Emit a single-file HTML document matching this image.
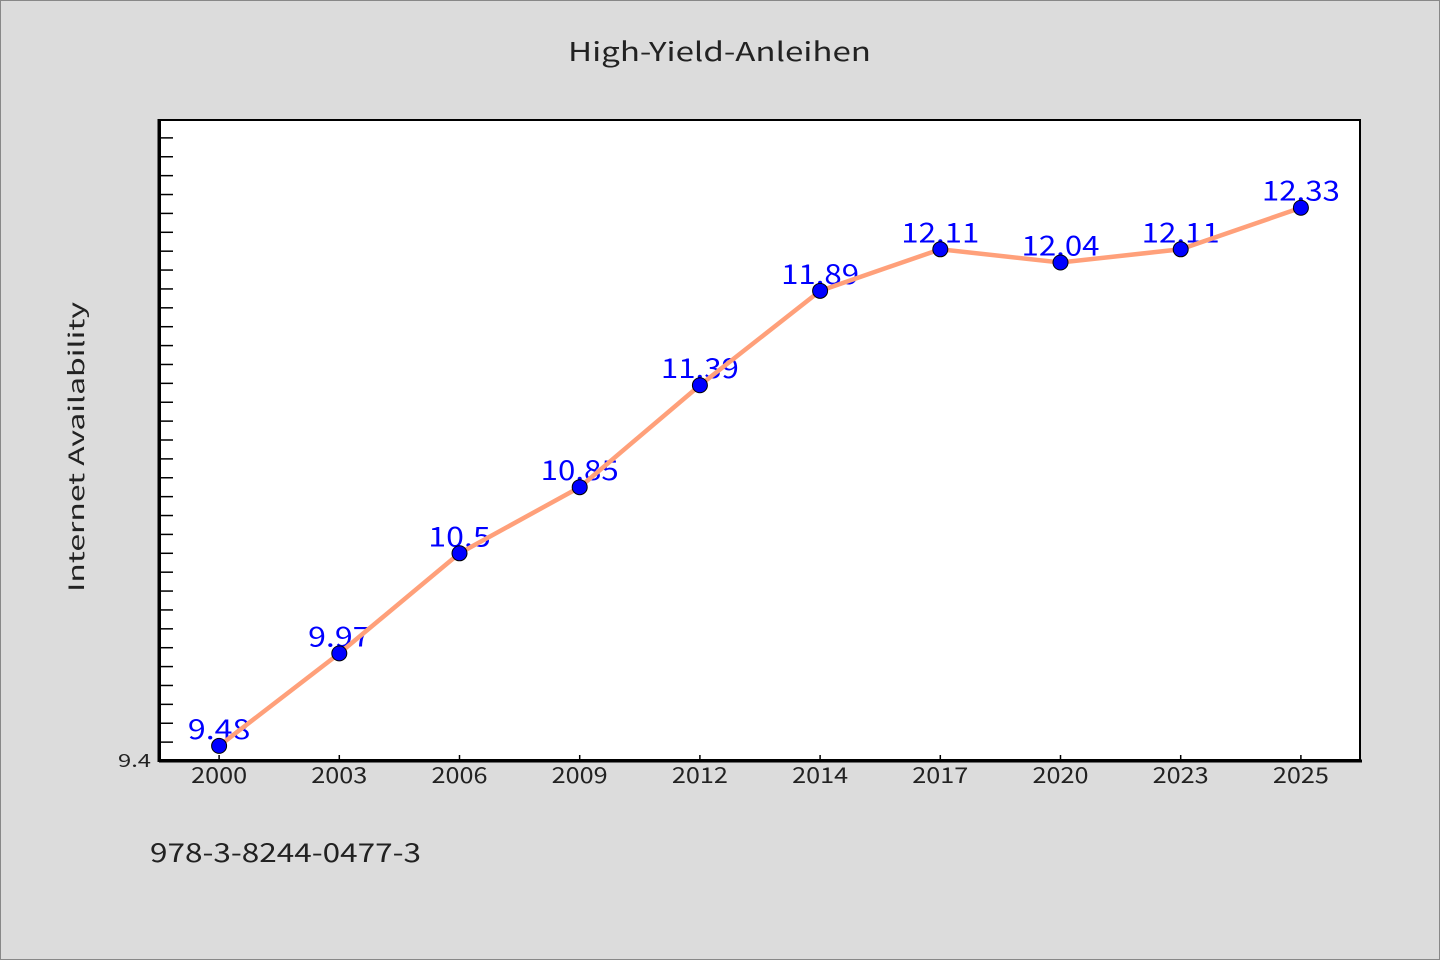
<!DOCTYPE html>
<html><head><meta charset="utf-8"><style>
html,body{margin:0;padding:0;background:#dcdcdc;}
svg{display:block;font-family:"WenQuanYi Zen Hei Mono","WenQuanYi Zen Hei","Noto Sans CJK SC","Liberation Sans",sans-serif;}
</style></head><body>
<svg id="chart" width="1440" height="960">
<rect x="0.5" y="0.5" width="1439" height="959" fill="#dcdcdc" stroke="#888"/>
<text x="568" y="61" font-size="26" fill="#222" textLength="303" lengthAdjust="spacingAndGlyphs">High-Yield-Anleihen</text>
<rect x="159" y="119" width="1202" height="642" fill="#fff"/>
<g id="yticks"></g>
<g id="xticks"></g>
<g id="labels"></g>
<path id="line" fill="none" stroke="#ffa07a" stroke-width="4.5"/>
<g id="points"></g>
<rect x="160" y="120" width="1200" height="640" fill="none" stroke="#000" stroke-width="2"/>
<line x1="159" y1="761" x2="1362" y2="761" stroke="#000" stroke-width="3"/>
<line x1="159" y1="119" x2="159" y2="762" stroke="#000" stroke-width="3"/>
<text x="118" y="767" font-size="18" fill="#222" textLength="33" lengthAdjust="spacingAndGlyphs">9.4</text>
<text transform="translate(84,592) rotate(-90)" font-size="21" fill="#222" textLength="290" lengthAdjust="spacingAndGlyphs">Internet Availability</text>
<text x="150" y="862" font-size="26" fill="#222" textLength="271" lengthAdjust="spacingAndGlyphs">978-3-8244-0477-3</text>
</svg>
<script>
const categories=["2000","2003","2006","2009","2012","2014","2017","2020","2023","2025"];
const values=[9.48,9.97,10.5,10.85,11.39,11.89,12.11,12.04,12.11,12.33];
const valueLabels=["9.48","9.97","10.5","10.85","11.39","11.89","12.11","12.04","12.11","12.33"];
const yMin=9.4,yMax=12.8;
const L=159,R=1361,T=119,B=761;
const NS="http://www.w3.org/2000/svg";
const band=(R-L)/categories.length;
const x=i=>L+band*(i+0.5);
const y=v=>B-(v-yMin)/(yMax-yMin)*(B-T);
function mk(t,a,p){const e=document.createElementNS(NS,t);for(const k in a)e.setAttribute(k,a[k]);p.appendChild(e);return e;}
const yt=document.getElementById('yticks');
for(let k=1;k<34;k++){const v=yMin+k*0.1;const yy=y(v);
const e=mk('line',{x1:L,x2:L+14,y1:yy,y2:yy,stroke:'#000','stroke-width':1.5},yt);

}
const xt=document.getElementById('xticks');
categories.forEach((c,i)=>{
const t=mk('line',{x1:x(i),x2:x(i),y1:B-6,y2:B,stroke:'#000','stroke-width':1.5},xt);


const l=mk('text',{x:x(i)-28,y:B+22,'font-size':22,fill:'#222',textLength:56,lengthAdjust:'spacingAndGlyphs'},xt);
l.textContent=c;

});
const lb=document.getElementById('labels');
values.forEach((v,i)=>{const s=valueLabels[i];const w=s.length*15.6;
const t=mk('text',{x:x(i)-w/2,y:y(v)-7,'font-size':27,fill:'#0000ff',textLength:w,lengthAdjust:'spacingAndGlyphs'},lb);
t.textContent=s;

});
document.getElementById('line').setAttribute('d',values.map((v,i)=>(i?'L':'M')+x(i)+' '+y(v)).join(' '));
const pg=document.getElementById('points');
values.forEach((v,i)=>{const c=mk('circle',{cx:x(i),cy:y(v),r:7.5,fill:'#0000ff',stroke:'#000','stroke-width':1},pg);

});
</script>
</body></html>
